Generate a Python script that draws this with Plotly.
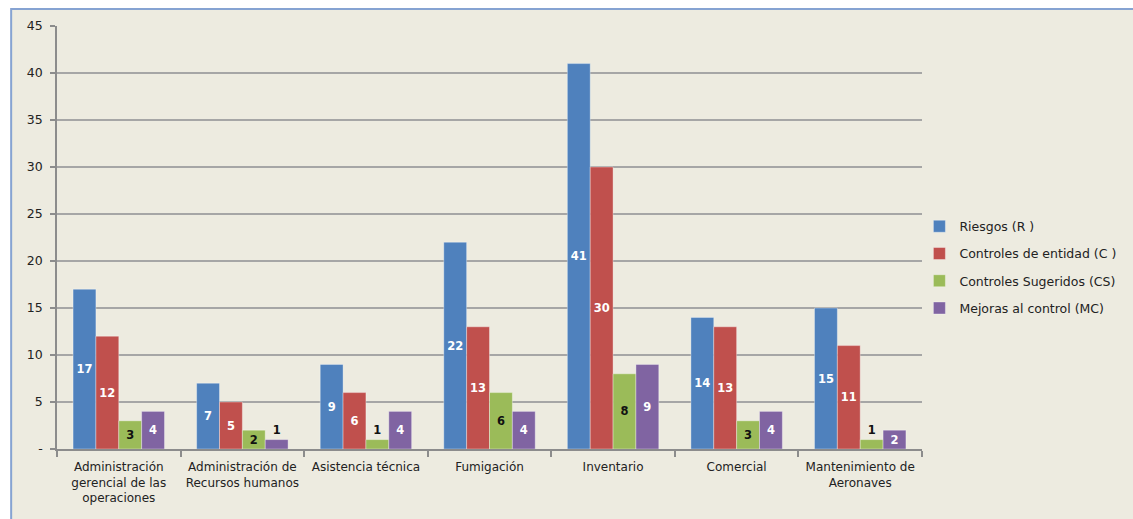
import plotly.graph_objects as go

categories = [
    "Administración<br>gerencial de las<br>operaciones",
    "Administración de<br>Recursos humanos",
    "Asistencia técnica",
    "Fumigación",
    "Inventario",
    "Comercial",
    "Mantenimiento de<br>Aeronaves",
]
series_names = ["Riesgos (R )", "Controles de entidad (C )", "Controles Sugeridos (CS)", "Mejoras al control (MC)"]
riesgos = [17, 7, 9, 22, 41, 14, 15]
controles = [12, 5, 6, 13, 30, 13, 11]
sugeridos = [3, 2, 1, 6, 8, 3, 1]
mejoras = [4, 1, 4, 4, 9, 4, 2]
y_tickvals = [0, 5, 10, 15, 20, 25, 30, 35, 40, 45]
y_ticktext = ["-", "5", "10", "15", "20", "25", "30", "35", "40", "45"]

colors = ["#4F81BD", "#C0504D", "#9BBB59", "#8064A2"]
label_colors = ["white", "white", "#111111", "white"]
bg = "#EDEBE0"

fig = go.Figure()
for i, (name, vals) in enumerate(zip(series_names, [riesgos, controles, sugeridos, mejoras])):
    pos = ["outside" if v <= 1 else "inside" for v in vals]
    tcol = ["#111111" if v <= 1 else label_colors[i] for v in vals]
    fig.add_trace(go.Bar(
        x=categories, y=vals, name=name,
        marker=dict(color=colors[i], line=dict(color="rgba(255,255,255,0.35)", width=1)),
        text=[str(v) for v in vals], textposition=pos, textangle=0,
        insidetextanchor="middle", constraintext="none", cliponaxis=False,
        textfont=dict(family="DejaVu Sans", size=11.5, color=tcol, weight="bold"),
        legendgroup=name,
    ))

fig.update_layout(
    width=1133, height=519,
    margin=dict(l=57, r=211, t=26, b=70),
    barmode="group", bargap=0.26, bargroupgap=0,
    paper_bgcolor="white", plot_bgcolor=bg,
    font=dict(family="DejaVu Sans", size=12, color="#222222"),
    showlegend=True,
    legend=dict(x=0.997, y=0.43, xanchor="left", yanchor="middle",
                font=dict(family="DejaVu Sans", size=12.5, color="#222222"),
                tracegroupgap=8, bgcolor="rgba(0,0,0,0)"),
    shapes=[dict(type="rect", xref="paper", yref="paper", x0=-0.053, x1=1.5, y0=-0.4, y1=1.04,
                 fillcolor=bg, line=dict(color="#86A3D2", width=2), layer="below")],
)
fig.update_xaxes(
    showline=True, linecolor="#8C8C8C", linewidth=1.5,
    ticks="outside", tickson="boundaries", ticklen=6, tickcolor="#8C8C8C", tickwidth=1.5,
    ticklabelstandoff=6, tickangle=0,
    automargin=False, tickfont=dict(size=12, color="#222222"),
)
fig.update_yaxes(
    range=[0, 45], tickvals=y_tickvals, ticktext=y_ticktext,
    showline=True, linecolor="#8C8C8C", linewidth=1.5,
    showgrid=True, gridcolor="#A6A6A6", gridwidth=1.5,
    ticks="outside", ticklen=5, tickcolor="#8C8C8C", tickwidth=1.5,
    ticklabelstandoff=5, automargin=False, zeroline=False,
    tickfont=dict(size=12.5, color="#222222"),
)
fig.write_html("out.html")
